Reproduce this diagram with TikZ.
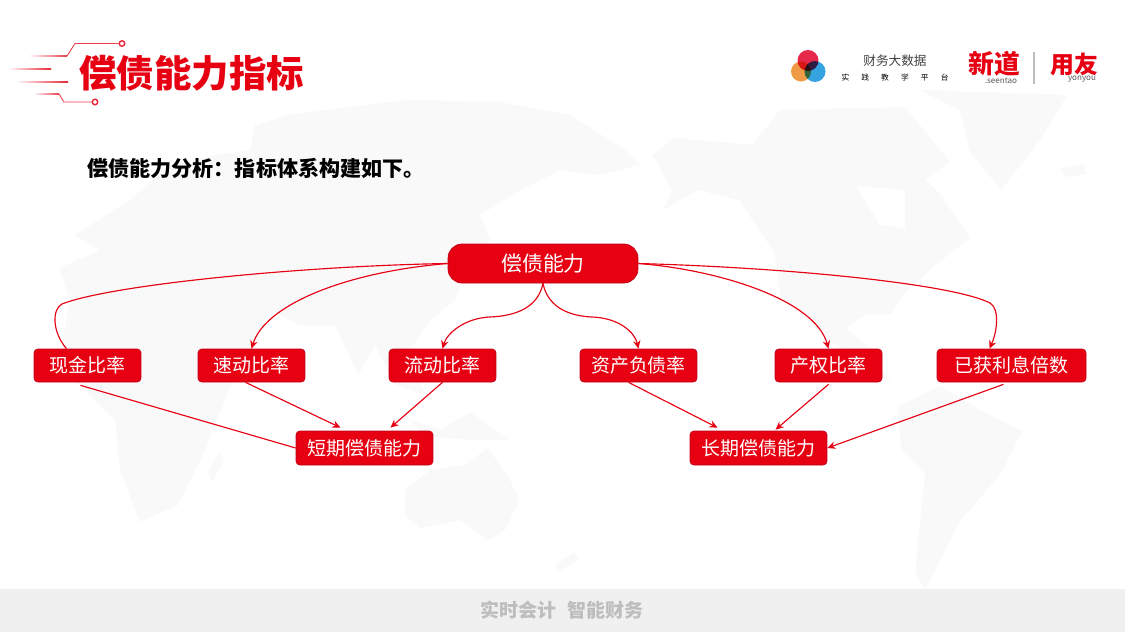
\documentclass[tikz,border=0pt]{standalone}
\usepackage{fontspec}
\setmainfont{Noto Sans CJK SC}
\usetikzlibrary{arrows.meta}
\usetikzlibrary{calc}
\definecolor{mainred}{HTML}{E60012}
\definecolor{edgered}{HTML}{C00018}
\definecolor{mapgray}{HTML}{F9F9F9}
\definecolor{bandgray}{HTML}{F0F0F0}
\definecolor{brushgray}{HTML}{BDBDBD}
\definecolor{logored}{HTML}{E6294B}
\definecolor{logoorange}{HTML}{EF9B45}
\definecolor{logoblue}{HTML}{35A3DF}
\begin{document}
\begin{tikzpicture}[x=0.02cm, y=-0.02cm, >={Stealth[length=4.6pt,width=4.2pt]},
  redbox/.style={draw=edgered, line width=0.4pt, fill=mainred, text=white, rounded corners=2.2pt, inner sep=0pt, minimum height=0.66cm, font=\fontsize{10.8pt}{12pt}\selectfont},
  sumbox/.style={redbox, minimum height=0.68cm, minimum width=2.74cm},
  rootbox/.style={redbox, rounded corners=8pt, minimum width=3.8cm, minimum height=0.78cm, font=\fontsize{11.9pt}{14pt}\selectfont},
  link/.style={mainred, line width=0.65pt},
  deco/.style={mainred!75, line width=0.5pt},
  ring/.style={draw=mainred!85, fill=white, line width=0.8pt},
  mapland/.style={fill=mapgray, draw=none},
]
\useasboundingbox (0,0) rectangle (1125,632);
\fill[white] (0,0) rectangle (1125,632);

\fill[mapland] (62,345)--(70,300)--(60,268)--(100,250)--(75,235)--(130,200)--(170,165)--(215,155)--(250,150)--(255,125)--(290,115)--(340,108)--(410,100)--(500,102)--(570,115)--(625,150)--(640,165)--(600,175)--(560,170)--(520,190)--(480,215)--(490,240)--(470,262)--(455,300)--(430,320)--(410,350)--(425,395)--(395,385)--(375,345)--(358,375)--(335,325)--(300,325)--(270,310)--(245,365)--(235,375)--(205,450)--(178,505)--(140,522)--(120,470)--(115,420)--(80,385)--(60,375)--cycle;
\fill[mapland] (405,490)--(430,470)--(465,465)--(488,448)--(510,480)--(519,500)--(505,530)--(488,540)--(460,520)--(420,528)--(405,515)--cycle;
\fill[mapland] (410,420)--(440,430)--(470,412)--(510,440)--(470,440)--(425,436)--cycle;
\fill[mapland] (219,452)--(224,460)--(212,482)--(208,472)--cycle;
\fill[mapland] (574,552)--(578,560)--(557,572)--(556,564)--cycle;
\fill[mapland] (919,90)--(1067,95)--(1040,140)--(1001,190)--(970,152)--(960,110)--cycle;
\fill[mapland] (653,155)--(674,138)--(753,145)--(780,110)--(905,107)--(950,162)--(925,180)--(939,193)--(970,238)--(939,262)--(905,293)--(891,314)--(867,314)--(846,328)--(870,349)--(891,383)--(836,345)--(781,297)--(774,252)--(739,200)--(698,190)--(663,210)--(672,190)--cycle;
\fill[white] (856,186)--(905,190)--(905,228)--(880,225)--cycle;
\fill[mapland] (898,407)--(939,386)--(987,414)--(1022,431)--(1001,473)--(960,521)--(925,590)--(915,572)--(925,473)--(901,449)--cycle;
\fill[mapland] (1060,169)--(1084,164)--(1086,174)--(1066,177)--cycle;

\fill[bandgray] (0,589) rectangle (1125,632);
\node (motto) at (562,610) {\fontsize{10.8pt}{14pt}\selectfont\bfseries\color{brushgray}实时会计\hspace{0.6em}智能财务};

\shade[left color=white, right color=mainred!75] (28,55.6) rectangle (67,56.4);
\shade[left color=white, right color=mainred!85] (8,68.6) rectangle (51,69.4);
\shade[left color=white, right color=mainred!85] (15,81.6) rectangle (68,82.4);
\shade[left color=white, right color=mainred!75] (33,93.6) rectangle (59,94.4);
\node[circle, ring, minimum size=0.11cm, inner sep=0pt] (ringa) at (122,43.5) {};
\node[circle, ring, minimum size=0.11cm, inner sep=0pt] (ringb) at (95,102) {};
\draw[deco] (67,56)--(75,43.5)--(ringa);
\draw[deco] (59,94)--(64,102)--(ringb);

\node[anchor=west, inner sep=0pt, text=mainred] (title) at (79,73) {\fontsize{21.3pt}{24pt}\selectfont\bfseries 偿债能力指标};
\node[anchor=west, inner sep=0pt] (intro) at (87,168) {\fontsize{12pt}{14pt}\selectfont\bfseries 偿债能力分析：指标体系构建如下。};

\begin{scope}[blend mode=multiply]
\fill[logored] (808,60.5) circle (10.5);
\fill[logoorange] (801,71.5) circle (10);
\fill[logoblue] (815,71.5) circle (10.5);
\end{scope}
\node[inner sep=0pt, text=black!75] (brand) at (895,61) {\fontsize{7.2pt}{9pt}\selectfont 财务大数据};
\node[inner sep=0pt] (slogan) at (895,78) {\fontsize{4.4pt}{6pt}\selectfont 实\hspace{6.9pt}践\hspace{6.9pt}教\hspace{6.9pt}学\hspace{6.9pt}平\hspace{6.9pt}台};
\node[inner sep=0pt, text=mainred] (seentao) at (994,64) {\fontsize{14.7pt}{16pt}\selectfont\bfseries 新道};
\node[inner sep=0pt, text=black!65] (seentaoen) at (1001,80.5) {\fontsize{4.6pt}{6pt}\selectfont\itshape .seentao};
\node[inner sep=0pt, text=mainred] (yonyou) at (1074,64) {\fontsize{13.6pt}{16pt}\selectfont\bfseries 用友};
\node[inner sep=0pt, text=black!65] (yonyouen) at (1082,79.5) {\fontsize{4.6pt}{6pt}\selectfont\itshape yonyou};
\draw[black!25, line width=0.6pt] (1034,52)--(1034,84);

\node[rootbox] (root) at (543,263.5) {偿债能力};
\node[redbox, minimum width=2.14cm] (cash) at (87.5,365.5) {现金比率};
\node[redbox, minimum width=2.14cm] (quick) at (251.5,365.5) {速动比率};
\node[redbox, minimum width=2.14cm] (current) at (442.5,365.5) {流动比率};
\node[redbox, minimum width=2.34cm] (debt) at (638.5,365.5) {资产负债率};
\node[redbox, minimum width=2.14cm] (equity) at (828.5,365.5) {产权比率};
\node[redbox, minimum width=2.98cm] (interest) at (1011.5,365.5) {已获利息倍数};
\node[sumbox] (short) at (364.5,448) {短期偿债能力};
\node[sumbox] (long) at (758.5,448) {长期偿债能力};

\draw[link] (root.west) .. controls (300,266) and (110,285) .. (62,304) .. controls (52,309) and (52,332) .. ($(cash.north)+(-21,0)$);
\draw[link,->] (root.west) .. controls (345,272) and (265,305) .. (quick.north);
\draw[link,->] (root.south) .. controls (538,308) and (515,316) .. (490,317) .. controls (465,318) and (447,333) .. (current.north);
\draw[link,->] (root.south) .. controls (548,308) and (570,316) .. (592,317) .. controls (620,318) and (635,333) .. (debt.north);
\draw[link,->] (root.east) .. controls (720,270) and (815,300) .. (equity.north);
\draw[link,->] (root.east) .. controls (800,268) and (955,285) .. (990,303) .. controls (1000,309) and (997,332) .. ($(interest.north)+(-22,0)$);

\draw[link] ($(cash.south)+(-7,3)$) -- (short.west);
\draw[link,->] ($(quick.south)+(-6,0)$) -- ($(short.north)+(-24,-3)$);
\draw[link,->] (current.south) -- ($(short.north)+(26,-3)$);
\draw[link,->] ($(debt.south)+(-10,0)$) -- ($(long.north)+(-41,-3)$);
\draw[link,->] ($(equity.south)+(0,2)$) -- ($(long.north)+(17,-1)$);
\draw[link,->] ($(interest.south)+(-8,2)$) -- (long.east);
\end{tikzpicture}
\end{document}
